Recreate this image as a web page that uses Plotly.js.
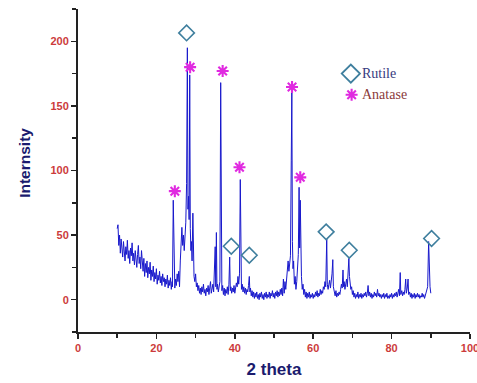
<!DOCTYPE html>
<html><head><meta charset="utf-8">
<script src="https://cdn.plot.ly/plotly-3.0.1.min.js"></script>
<style>html,body{margin:0;padding:0;background:#fff}#chart{width:477px;height:383px}</style>
</head><body><div id="chart"></div>
<script>
// XRD pattern: [2theta, intensity]
const pattern = [
[10.0,55],[10.2,58],[10.4,42],[10.6,50],[10.8,36],[11.0,47],[11.2,40],[11.4,33],[11.6,45],[11.8,38],
[12.0,30],[12.2,41],[12.4,35],[12.6,46],[12.8,32],[13.0,38],[13.2,28],[13.4,40],[13.6,34],[13.8,44],
[14.0,30],[14.2,36],[14.4,27],[14.6,38],[14.8,31],[15.0,25],[15.2,35],[15.4,42],[15.6,28],[15.8,33],
[16.0,24],[16.2,38],[16.4,30],[16.6,22],[16.8,32],[17.0,18],[17.2,28],[17.4,21],[17.6,30],[17.8,17],
[18.0,25],[18.2,20],[18.4,29],[18.6,15],[18.8,23],[19.0,18],[19.2,26],[19.4,14],[19.6,21],[19.8,16],
[20.0,24],[20.2,12],[20.4,19],[20.6,15],[20.8,22],[21.0,13],[21.2,18],[21.4,11],[21.6,20],[21.8,14],
[22.0,17],[22.2,10],[22.4,16],[22.6,12],[22.8,19],[23.0,9],[23.2,15],[23.4,11],[23.6,17],[23.8,8],
[24.0,14],[24.1,10],[24.3,77],[24.5,12],[24.7,9],[24.9,16],[25.1,11],[25.3,20],[25.5,14],[25.7,22],
[25.9,10],[26.1,30],[26.3,45],[26.5,56],[26.7,42],[26.9,50],[27.1,38],[27.3,48],[27.5,60],[27.7,90],
[27.9,195],[28.05,70],[28.2,80],[28.35,62],[28.5,174],[28.65,55],[28.8,38],[28.95,45],[29.1,30],[29.3,67],
[29.45,25],[29.6,18],[29.8,14],[30.0,20],[30.2,10],[30.4,13],[30.6,7],[30.8,11],[31.0,5],[31.2,9],
[31.4,4],[31.6,10],[31.8,6],[32.0,12],[32.2,5],[32.4,8],[32.6,3],[32.8,9],[33.0,6],[33.2,11],
[33.4,4],[33.6,8],[33.8,14],[34.0,5],[34.2,9],[34.4,12],[34.6,6],[34.8,20],[35.0,41],[35.15,10],
[35.3,52],[35.45,8],[35.6,12],[35.8,6],[36.0,10],[36.2,14],[36.4,168],[36.55,12],[36.7,7],[36.9,11],
[37.1,4],[37.3,9],[37.5,3],[37.7,8],[37.9,5],[38.1,10],[38.3,4],[38.5,12],[38.7,33],[38.85,7],
[39.0,10],[39.2,5],[39.4,9],[39.6,6],[39.8,11],[40.0,5],[40.2,8],[40.4,13],[40.6,10],[40.8,18],
[41.0,12],[41.2,20],[41.4,93],[41.55,15],[41.7,8],[41.9,12],[42.1,6],[42.3,10],[42.5,5],[42.7,9],
[42.9,4],[43.1,8],[43.3,6],[43.5,11],[43.7,18],[43.85,6],[44.0,9],[44.2,3],[44.4,7],[44.6,2],
[44.8,6],[45.0,1],[45.2,5],[45.4,2],[45.6,6],[45.8,1],[46.0,4],[46.2,0],[46.4,5],[46.6,2],
[46.8,6],[47.0,1],[47.2,4],[47.4,0],[47.6,5],[47.8,2],[48.0,6],[48.2,1],[48.4,4],[48.6,2],
[48.8,6],[49.0,1],[49.2,5],[49.4,3],[49.6,7],[49.8,2],[50.0,5],[50.2,1],[50.4,6],[50.6,3],
[50.8,7],[51.0,2],[51.2,6],[51.4,3],[51.6,8],[51.8,4],[52.0,9],[52.2,3],[52.4,16],[52.6,5],
[52.8,14],[53.0,8],[53.2,18],[53.4,25],[53.6,30],[53.8,22],[54.0,28],[54.2,34],[54.4,108],[54.55,160],
[54.7,45],[54.85,24],[55.0,30],[55.2,12],[55.4,18],[55.6,8],[55.8,14],[56.0,22],[56.2,35],[56.4,87],
[56.55,40],[56.7,77],[56.85,33],[57.0,18],[57.2,8],[57.4,12],[57.6,4],[57.8,8],[58.0,2],[58.2,6],
[58.4,1],[58.6,5],[58.8,2],[59.0,6],[59.2,1],[59.4,4],[59.6,2],[59.8,5],[60.0,1],[60.2,4],
[60.4,2],[60.6,6],[60.8,3],[61.0,7],[61.2,2],[61.4,5],[61.6,3],[61.8,8],[62.0,4],[62.2,7],
[62.4,5],[62.6,10],[62.8,8],[63.0,14],[63.2,10],[63.45,47],[63.6,12],[63.8,8],[64.0,12],[64.2,15],
[64.4,9],[64.6,14],[64.8,20],[65.0,31],[65.15,10],[65.4,6],[65.6,3],[65.8,7],[66.0,2],[66.2,5],
[66.4,3],[66.6,6],[66.8,4],[67.0,8],[67.2,12],[67.4,9],[67.6,23],[67.75,10],[67.9,14],[68.1,8],
[68.3,12],[68.5,16],[68.7,10],[68.9,20],[69.1,32],[69.25,18],[69.4,12],[69.6,8],[69.8,10],[70.0,4],
[70.2,7],[70.4,2],[70.6,5],[70.8,1],[71.0,4],[71.2,2],[71.4,6],[71.6,1],[71.8,4],[72.0,2],
[72.2,5],[72.4,1],[72.6,4],[72.8,2],[73.0,5],[73.2,3],[73.4,6],[73.6,2],[73.8,5],[74.0,11],
[74.2,3],[74.4,6],[74.6,2],[74.8,5],[75.0,1],[75.2,4],[75.4,2],[75.6,6],[75.8,3],[76.0,5],
[76.2,2],[76.4,8],[76.6,3],[76.8,5],[77.0,2],[77.2,4],[77.4,1],[77.6,4],[77.8,2],[78.0,5],
[78.2,1],[78.4,4],[78.6,2],[78.8,5],[79.0,1],[79.2,3],[79.4,1],[79.6,4],[79.8,2],[80.0,5],
[80.2,1],[80.4,4],[80.6,2],[80.8,5],[81.0,3],[81.2,6],[81.4,2],[81.6,5],[81.8,8],[82.0,3],
[82.2,21],[82.35,4],[82.6,7],[82.8,3],[83.0,6],[83.2,4],[83.4,8],[83.6,16],[83.75,5],[84.0,9],
[84.2,16],[84.35,4],[84.6,6],[84.8,2],[85.0,5],[85.2,1],[85.4,4],[85.6,2],[85.8,5],[86.0,1],
[86.2,4],[86.4,2],[86.6,5],[86.8,2],[87.0,4],[87.2,1],[87.4,3],[87.6,2],[87.8,5],[88.0,2],
[88.2,4],[88.4,1],[88.6,3],[88.8,6],[89.0,8],[89.2,10],[89.45,45],[89.6,14],[89.8,10],[90.0,5]
];
const twoTheta = pattern.map(p => p[0]);
const intensity = pattern.map(p => p[1]);

// Phase marker positions
const rutileX = [27.7, 39.1, 43.7, 63.3, 69.2, 90.2];
const rutileY = [206.5, 41.4, 34.4, 52.5, 38.3, 47.4];
const anataseX = [24.7, 28.6, 36.9, 41.2, 54.6, 56.7];
const anataseY = [84, 180, 177, 102.5, 164.6, 94.7];

// Legend entries
const legendLabels = ['Rutile', 'Anatase'];
const legendX = [69.6, 69.8];
const legendY = [175, 158.6];

const xTickVals = [0, 20, 40, 60, 80, 100];
const yTickVals = [0, 50, 100, 150, 200];

const rutileColor = '#3f7f9e';
const anataseColor = '#e02ae0';

const traces = [
  {x: twoTheta, y: intensity, type: 'scatter', mode: 'lines',
   line: {color: '#1818cc', width: 1}, hoverinfo: 'skip'},
  {x: rutileX, y: rutileY, type: 'scatter', mode: 'markers',
   marker: {symbol: 'diamond-open', size: 12, color: rutileColor, line: {width: 1.6, color: rutileColor}}},
  {x: anataseX, y: anataseY, type: 'scatter', mode: 'markers',
   marker: {symbol: 'asterisk-open', size: 10, color: anataseColor, line: {width: 2.1, color: anataseColor}}},
  {x: [legendX[0]], y: [legendY[0]], type: 'scatter', mode: 'markers',
   marker: {symbol: 'diamond-open', size: 14, color: rutileColor, line: {width: 1.8, color: rutileColor}}},
  {x: [legendX[1]], y: [legendY[1]], type: 'scatter', mode: 'markers',
   marker: {symbol: 'asterisk-open', size: 10, color: anataseColor, line: {width: 2.1, color: anataseColor}}}
];

const tickFont = {family: 'Liberation Sans, Arial, sans-serif', size: 11, color: '#cc3b3b', weight: 'bold'};
const titleFont = {family: 'Liberation Sans, Arial, sans-serif', size: 17, color: '#1b1b6e', weight: 'bold'};

const layout = {
  width: 477, height: 383,
  margin: {l: 78, r: 7, t: 9, b: 51},
  paper_bgcolor: '#ffffff', plot_bgcolor: '#ffffff',
  showlegend: false,
  xaxis: {
    range: [0, 100], tickvals: xTickVals, ticktext: xTickVals.map(String),
    showgrid: false, zeroline: false, showline: true, linecolor: '#222', linewidth: 2,
    ticks: 'outside', ticklen: 5, tickwidth: 1.5, tickcolor: '#222',
    minor: {dtick: 10, tick0: 0, ticks: 'outside', ticklen: 4, tickwidth: 1.5, tickcolor: '#222', showgrid: false},
    tickfont: tickFont, ticklabeloverflow: 'allow',
    title: {text: '2 theta', font: titleFont, standoff: 10}
  },
  yaxis: {
    range: [-25, 225], tickvals: yTickVals, ticktext: yTickVals.map(String),
    showgrid: false, zeroline: false, showline: true, linecolor: '#222', linewidth: 2,
    ticks: 'outside', ticklen: 5, tickwidth: 1.5, tickcolor: '#222',
    minor: {dtick: 25, tick0: 0, ticks: 'outside', ticklen: 4, tickwidth: 1.5, tickcolor: '#222', showgrid: false},
    tickfont: tickFont
  },
  annotations: [
    {x: -0.135, y: 106, xref: 'paper', yref: 'y', text: 'Internsity', textangle: -90, showarrow: false,
     xanchor: 'center', yanchor: 'middle',
     font: {family: 'Liberation Sans, Arial, sans-serif', size: 15.5, color: '#1b1b6e', weight: 'bold'}},
    {x: legendX[0] + 2.3, y: legendY[0], xref: 'x', yref: 'y', text: legendLabels[0], showarrow: false,
     xanchor: 'left', yanchor: 'middle', font: {family: 'Liberation Serif, serif', size: 14, color: '#363a7e'}},
    {x: legendX[1] + 2.1, y: legendY[1], xref: 'x', yref: 'y', text: legendLabels[1], showarrow: false,
     xanchor: 'left', yanchor: 'middle', font: {family: 'Liberation Serif, serif', size: 14, color: '#8a3a3a'}}
  ]
};

Plotly.newPlot('chart', traces, layout, {displayModeBar: false, staticPlot: true});
</script>
</body></html>
